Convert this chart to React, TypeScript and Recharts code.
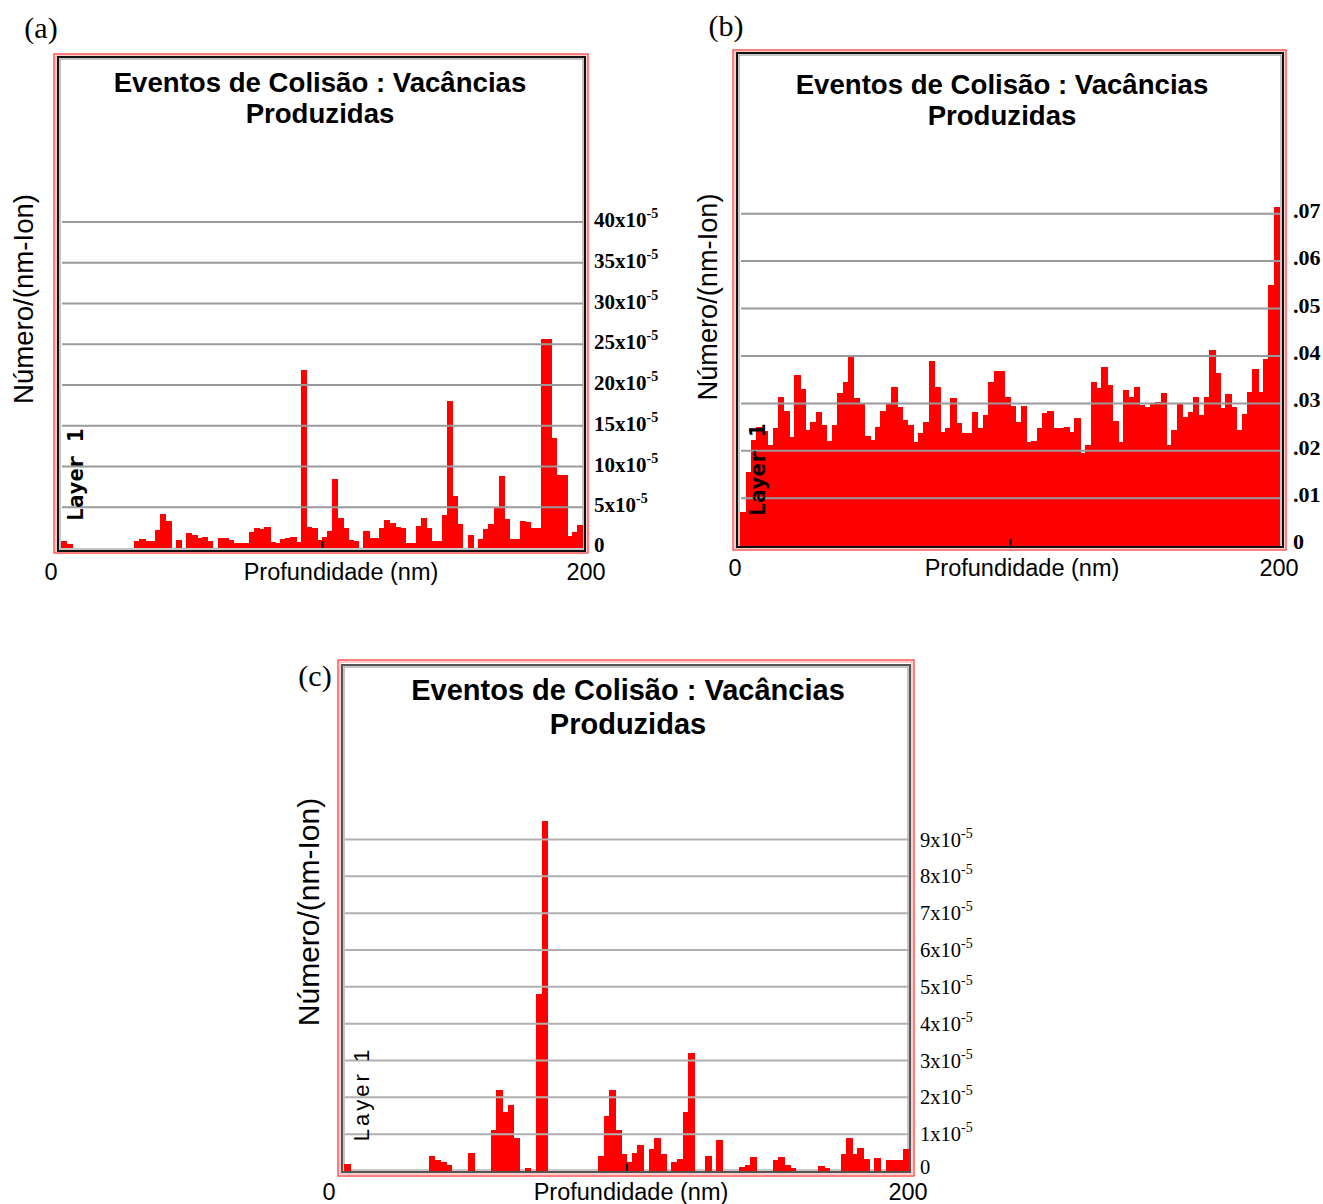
import React from 'react';
import { BarChart, Bar, XAxis, YAxis, ReferenceLine } from 'recharts';

// SRIM "Collision Events: Vacancies Produced", 100 bins of 2 nm each (0-200 nm)
// (a) values in units of 1e-5 vacancies/(nm-ion)
const vacanciesA = [
  0.8, 0.5, 0, 0, 0, 0, 0, 0, 0, 0,
  0, 0, 0, 0, 0.8, 1.1, 0.9, 0.8, 2.2, 4.2,
  3.3, 0, 1.0, 0, 1.8, 1.6, 1.2, 1.4, 0.8, 0,
  1.2, 1.2, 1.0, 0.6, 0.6, 0.6, 2.0, 2.5, 2.3, 2.6,
  0.7, 0.6, 1.1, 1.2, 1.3, 0.7, 21.8, 2.6, 2.4, 1.0,
  1.3, 2.1, 8.5, 3.7, 2.4, 1.0, 0.9, 0, 2.1, 1.2,
  1.2, 2.5, 3.4, 3.1, 2.6, 2.5, 0.6, 0.6, 2.7, 3.7,
  2.4, 0.8, 0.9, 4.1, 18.0, 6.4, 3.0, 0, 1.6, 0,
  1.1, 2.3, 2.9, 4.9, 8.8, 3.5, 1.1, 1.1, 3.3, 3.2,
  2.4, 2.5, 25.6, 25.6, 13.5, 8.9, 8.9, 1.5, 2.0, 2.8,
];

// (b) values in units of 1e-3 vacancies/(nm-ion)
const vacanciesB = [
  7.0, 15.6, 22.3, 25.1, 24.2, 21.2, 24.8, 31.3, 28.3, 23.0,
  36.0, 33.0, 24.4, 26.0, 28.1, 25.5, 22.1, 25.5, 32.1, 34.6,
  39.7, 31.1, 30.0, 23.2, 22.3, 25.1, 28.3, 30.0, 33.5, 29.3,
  26.5, 25.5, 21.9, 23.7, 26.0, 39.0, 33.5, 24.0, 24.8, 31.1,
  25.8, 23.7, 23.7, 28.1, 24.8, 27.6, 34.6, 36.8, 36.8, 31.4,
  29.5, 26.0, 29.5, 21.9, 22.1, 24.8, 28.0, 28.4, 24.9, 24.9,
  25.1, 23.9, 27.0, 19.5, 21.2, 34.6, 33.2, 37.6, 33.9, 26.2,
  21.9, 32.8, 31.4, 33.5, 29.7, 29.3, 29.8, 30.4, 32.3, 21.2,
  24.4, 29.9, 27.2, 28.1, 31.4, 27.6, 31.4, 41.2, 36.4, 29.0,
  32.0, 29.2, 24.4, 27.7, 32.5, 37.3, 32.5, 39.4, 55.0, 71.5,
];

// (c) values in units of 1e-5 vacancies/(nm-ion)
const vacanciesC = [
  0.2, 0, 0, 0, 0, 0, 0, 0, 0, 0,
  0, 0, 0, 0, 0, 0.4, 0.3, 0.25, 0.15, 0,
  0, 0, 0.5, 0, 0, 0, 1.1, 2.2, 1.6, 1.8,
  0.9, 0, 0.08, 0, 4.8, 9.5, 0, 0, 0, 0,
  0, 0, 0, 0, 0, 0.4, 1.5, 2.2, 1.1, 0.45,
  0.25, 0.5, 0.7, 0, 0.6, 0.9, 0.45, 0, 0.25, 0.33,
  1.6, 3.2, 0, 0, 0.4, 0, 0.85, 0, 0, 0,
  0.1, 0.16, 0.38, 0, 0, 0, 0.3, 0.37, 0.15, 0.09,
  0, 0, 0, 0, 0.14, 0.09, 0, 0, 0.46, 0.89,
  0.45, 0.62, 0.32, 0, 0.34, 0, 0.3, 0.3, 0.3, 0.6,
];

const ticksA = [0, 5, 10, 15, 20, 25, 30, 35, 40];
const tickTextA = ['0', '5x10', '10x10', '15x10', '20x10', '25x10', '30x10', '35x10', '40x10'];
const ticksB = [0, 10, 20, 30, 40, 50, 60, 70];
const tickTextB = ['0', '.01', '.02', '.03', '.04', '.05', '.06', '.07'];
const ticksC = [0, 1, 2, 3, 4, 5, 6, 7, 8, 9];
const tickTextC = ['0', '1x10', '2x10', '3x10', '4x10', '5x10', '6x10', '7x10', '8x10', '9x10'];

const xTicks = [0, 200];
const xTickText = ['0', '200'];

const TITLE_1 = 'Eventos de Colisão : Vacâncias';
const TITLE_2 = 'Produzidas';
const Y_TITLE = 'Número/(nm-Ion)';
const X_TITLE = 'Profundidade (nm)';
const LAYER = 'Layer 1';

const RED = '#ff0000';
const SANS = '"Liberation Sans", Arial, Helvetica, sans-serif';
const SERIF = '"Liberation Serif", "Times New Roman", Times, serif';
const MONO = '"DejaVu Sans Mono", "Liberation Mono", monospace';

const AXIS_W = 20;
const AXIS_H = 20;

type Box = { x: number; y: number; w: number; h: number };

interface PanelSpec {
  letter: string;
  letterAt: [number, number];
  box: Box; // chart svg, page px
  plot: Box; // plot area, page px
  yMax: number;
  values: number[];
  ticks: number[];
  tickText: string[];
  exponent: string;
  tickSize: number;
  tickWeight: number;
  tickDx: number;
  tickDy: number;
  zeroDy: number;
  gridColor: string;
  red: Box;
  black: Box;
  blackColor: string;
  title: { x: number; y1: number; y2: number; size: number };
  yTitle: { x: number; y: number; size: number };
  xTitle: { x: number; y: number; size: number };
  xTickDx: [number, number];
  layer: { x: number; y: number; font: string; size: number; weight: number; spacing: number };
}

const panelA: PanelSpec = {
  letter: '(a)',
  letterAt: [41, 38],
  box: { x: 0, y: 0, w: 680, h: 600 },
  plot: { x: 62, y: 59, w: 521, h: 489 },
  yMax: 60,
  values: vacanciesA,
  ticks: ticksA,
  tickText: tickTextA,
  exponent: '-5',
  tickSize: 21,
  tickWeight: 700,
  tickDx: 11,
  tickDy: 5,
  zeroDy: 4,
  gridColor: '#9a9a9a',
  red: { x: 54, y: 54, w: 534, h: 499 },
  black: { x: 58, y: 57, w: 527, h: 494 },
  blackColor: '#111',
  title: { x: 320, y1: 91.5, y2: 122.5, size: 27.6 },
  yTitle: { x: 32.5, y: 299, size: 27.6 },
  xTitle: { x: 341, y: 580, size: 23.5 },
  xTickDx: [-11, 3],
  layer: { x: 83, y: 475, font: MONO, size: 22, weight: 700, spacing: 0 },
};

const panelB: PanelSpec = {
  letter: '(b)',
  letterAt: [726, 36],
  box: { x: 680, y: 0, w: 643, h: 600 },
  plot: { x: 741, y: 71.4, w: 539, h: 474.3 },
  yMax: 100,
  values: vacanciesB,
  ticks: ticksB,
  tickText: tickTextB,
  exponent: '',
  tickSize: 22,
  tickWeight: 700,
  tickDx: 13,
  tickDy: 4,
  zeroDy: 3,
  gridColor: '#9a9a9a',
  red: { x: 733, y: 50, w: 553, h: 500 },
  black: { x: 737, y: 53, w: 546, h: 494 },
  blackColor: '#111',
  title: { x: 1002, y1: 93.5, y2: 124.5, size: 27.6 },
  yTitle: { x: 716.5, y: 297, size: 27.2 },
  xTitle: { x: 1022, y: 576, size: 23.5 },
  xTickDx: [-6, -1],
  layer: { x: 765, y: 470, font: MONO, size: 22, weight: 700, spacing: 0 },
};

const panelC: PanelSpec = {
  letter: '(c)',
  letterAt: [315, 686],
  box: { x: 270, y: 640, w: 730, h: 564 },
  plot: { x: 345, y: 655.4, w: 564, h: 515.6 },
  yMax: 14,
  values: vacanciesC,
  ticks: ticksC,
  tickText: tickTextC,
  exponent: '-5',
  tickSize: 20.5,
  tickWeight: 400,
  tickDx: 11,
  tickDy: 7,
  zeroDy: 3,
  gridColor: '#b0b0b0',
  red: { x: 338, y: 660, w: 576, h: 516 },
  black: { x: 342, y: 665, w: 568, h: 507 },
  blackColor: '#555',
  title: { x: 628, y1: 700.4, y2: 734.4, size: 29 },
  yTitle: { x: 319, y: 912, size: 30 },
  xTitle: { x: 631, y: 1200, size: 23.5 },
  xTickDx: [-16, -1],
  layer: { x: 369, y: 1094, font: SANS, size: 22, weight: 400, spacing: 3 },
};

// bars drawn edge to edge like SRIM's histogram (1px overlap hides seams)
const stepBar = (binPx: number) => (p: any) => {
  if (!p.height || p.height <= 0) return <g />;
  const cx = p.x + p.width / 2;
  return (
    <rect
      x={cx - binPx / 2 - 0.5}
      y={p.y}
      width={binPx + 1}
      height={p.height}
      fill={RED}
      shapeRendering="crispEdges"
    />
  );
};

function Panel({ s }: { s: PanelSpec }) {
  const data = s.values.map((v, i) => ({ depth: 2 * i + 1, v }));
  const ox = s.box.x;
  const oy = s.box.y;
  const plotRight = s.plot.x + s.plot.w;
  const plotBottom = s.plot.y + s.plot.h;
  const margin = {
    left: s.plot.x - ox,
    top: s.plot.y - oy,
    right: ox + s.box.w - plotRight - AXIS_W,
    bottom: oy + s.box.h - plotBottom - AXIS_H,
  };
  const binPx = s.plot.w / s.values.length;

  const renderYTick = (p: any) => {
    const i = s.ticks.indexOf(p.payload.value);
    const label = s.tickText[i] ?? String(p.payload.value);
    const isZero = label === '0';
    return (
      <text
        x={plotRight - ox + s.tickDx}
        y={p.y + (isZero ? s.zeroDy : s.tickDy)}
        fontFamily={SERIF}
        fontSize={s.tickSize}
        fontWeight={s.tickWeight}
        fill="#000"
      >
        {label}
        {!isZero && s.exponent ? (
          <tspan dy={-9} fontSize={14}>
            {s.exponent}
          </tspan>
        ) : null}
      </text>
    );
  };

  const renderXTick = (p: any) => {
    const i = xTicks.indexOf(p.payload.value);
    return (
      <text
        x={p.x + s.xTickDx[i === 0 ? 0 : 1]}
        y={s.xTitle.y - oy}
        textAnchor="middle"
        fontFamily={SANS}
        fontSize={s.xTitle.size}
        fill="#000"
      >
        {xTickText[i]}
      </text>
    );
  };

  const L = (x: number) => x - ox;
  const T = (y: number) => y - oy;

  return (
    <div style={{ position: 'absolute', left: ox, top: oy, width: s.box.w, height: s.box.h }}>
      <BarChart
        width={s.box.w}
        height={s.box.h}
        data={data}
        margin={margin}
        barCategoryGap={0}
        barGap={0}
      >
        {/* frames */}
        <rect x={L(s.red.x)} y={T(s.red.y)} width={s.red.w} height={s.red.h} fill="none" stroke="#ff2a2a" strokeWidth={1.2} />
        <rect x={L(s.red.x) + 2} y={T(s.red.y) + 2} width={s.red.w - 4} height={s.red.h - 4} fill="none" stroke="#ff9a9a" strokeWidth={1} />
        <rect x={L(s.black.x)} y={T(s.black.y)} width={s.black.w} height={s.black.h} fill="none" stroke={s.blackColor} strokeWidth={2} />
        <rect x={L(s.black.x) + 2} y={T(s.black.y) + 2} width={s.black.w - 4} height={s.black.h - 4} fill="none" stroke="#8c8c8c" strokeWidth={1} />

        <XAxis
          dataKey="depth"
          type="number"
          domain={[0, 200]}
          ticks={xTicks}
          interval={0}
          axisLine={false}
          tickLine={false}
          tickSize={0}
          height={AXIS_H}
          tick={renderXTick}
        />
        <YAxis
          orientation="right"
          type="number"
          domain={[0, s.yMax]}
          ticks={s.ticks}
          interval={0}
          axisLine={false}
          tickLine={false}
          tickSize={0}
          width={AXIS_W}
          tick={renderYTick}
        />
        <Bar
          dataKey="v"
          fill={RED}
          barSize={binPx}
          isAnimationActive={false}
          shape={stepBar(binPx)}
        />
        {s.ticks
          .filter((t) => t > 0)
          .map((t) => (
            <ReferenceLine key={`g${t}`} y={t} stroke={s.gridColor} strokeWidth={2} />
          ))}
        <ReferenceLine
          segment={[
            { x: 100, y: 0 },
            { x: 100, y: s.yMax * 0.014 },
          ]}
          stroke="#000"
          strokeWidth={2}
        />

        {/* titles and labels */}
        <text x={L(s.title.x)} y={T(s.title.y1)} textAnchor="middle" fontFamily={SANS} fontWeight={700} fontSize={s.title.size} fill="#000">
          {TITLE_1}
        </text>
        <text x={L(s.title.x)} y={T(s.title.y2)} textAnchor="middle" fontFamily={SANS} fontWeight={700} fontSize={s.title.size} fill="#000">
          {TITLE_2}
        </text>
        <text
          x={L(s.yTitle.x)}
          y={T(s.yTitle.y)}
          transform={`rotate(-90, ${L(s.yTitle.x)}, ${T(s.yTitle.y)})`}
          textAnchor="middle"
          fontFamily={SANS}
          fontSize={s.yTitle.size}
          fill="#000"
        >
          {Y_TITLE}
        </text>
        <text x={L(s.xTitle.x)} y={T(s.xTitle.y)} textAnchor="middle" fontFamily={SANS} fontSize={s.xTitle.size} fill="#000">
          {X_TITLE}
        </text>
        <text x={L(s.letterAt[0])} y={T(s.letterAt[1])} textAnchor="middle" fontFamily={SERIF} fontSize={30} fill="#000">
          {s.letter}
        </text>
      </BarChart>

      {/* layer tag sits above the bars */}
      <svg
        width={s.box.w}
        height={s.box.h}
        style={{ position: 'absolute', left: 0, top: 0, pointerEvents: 'none' }}
      >
        <text
          x={L(s.layer.x)}
          y={T(s.layer.y)}
          transform={`rotate(-90, ${L(s.layer.x)}, ${T(s.layer.y)})`}
          textAnchor="middle"
          fontFamily={s.layer.font}
          fontWeight={s.layer.weight}
          fontSize={s.layer.size}
          style={{ letterSpacing: s.layer.spacing }}
          fill="#000"
        >
          {LAYER}
        </text>
      </svg>
    </div>
  );
}

export default function App() {
  return (
    <div
      style={{
        position: 'absolute',
        left: 0,
        top: 0,
        width: 1323,
        height: 1204,
        background: '#fff',
        overflow: 'hidden',
      }}
    >
      <Panel s={panelA} />
      <Panel s={panelB} />
      <Panel s={panelC} />
    </div>
  );
}
